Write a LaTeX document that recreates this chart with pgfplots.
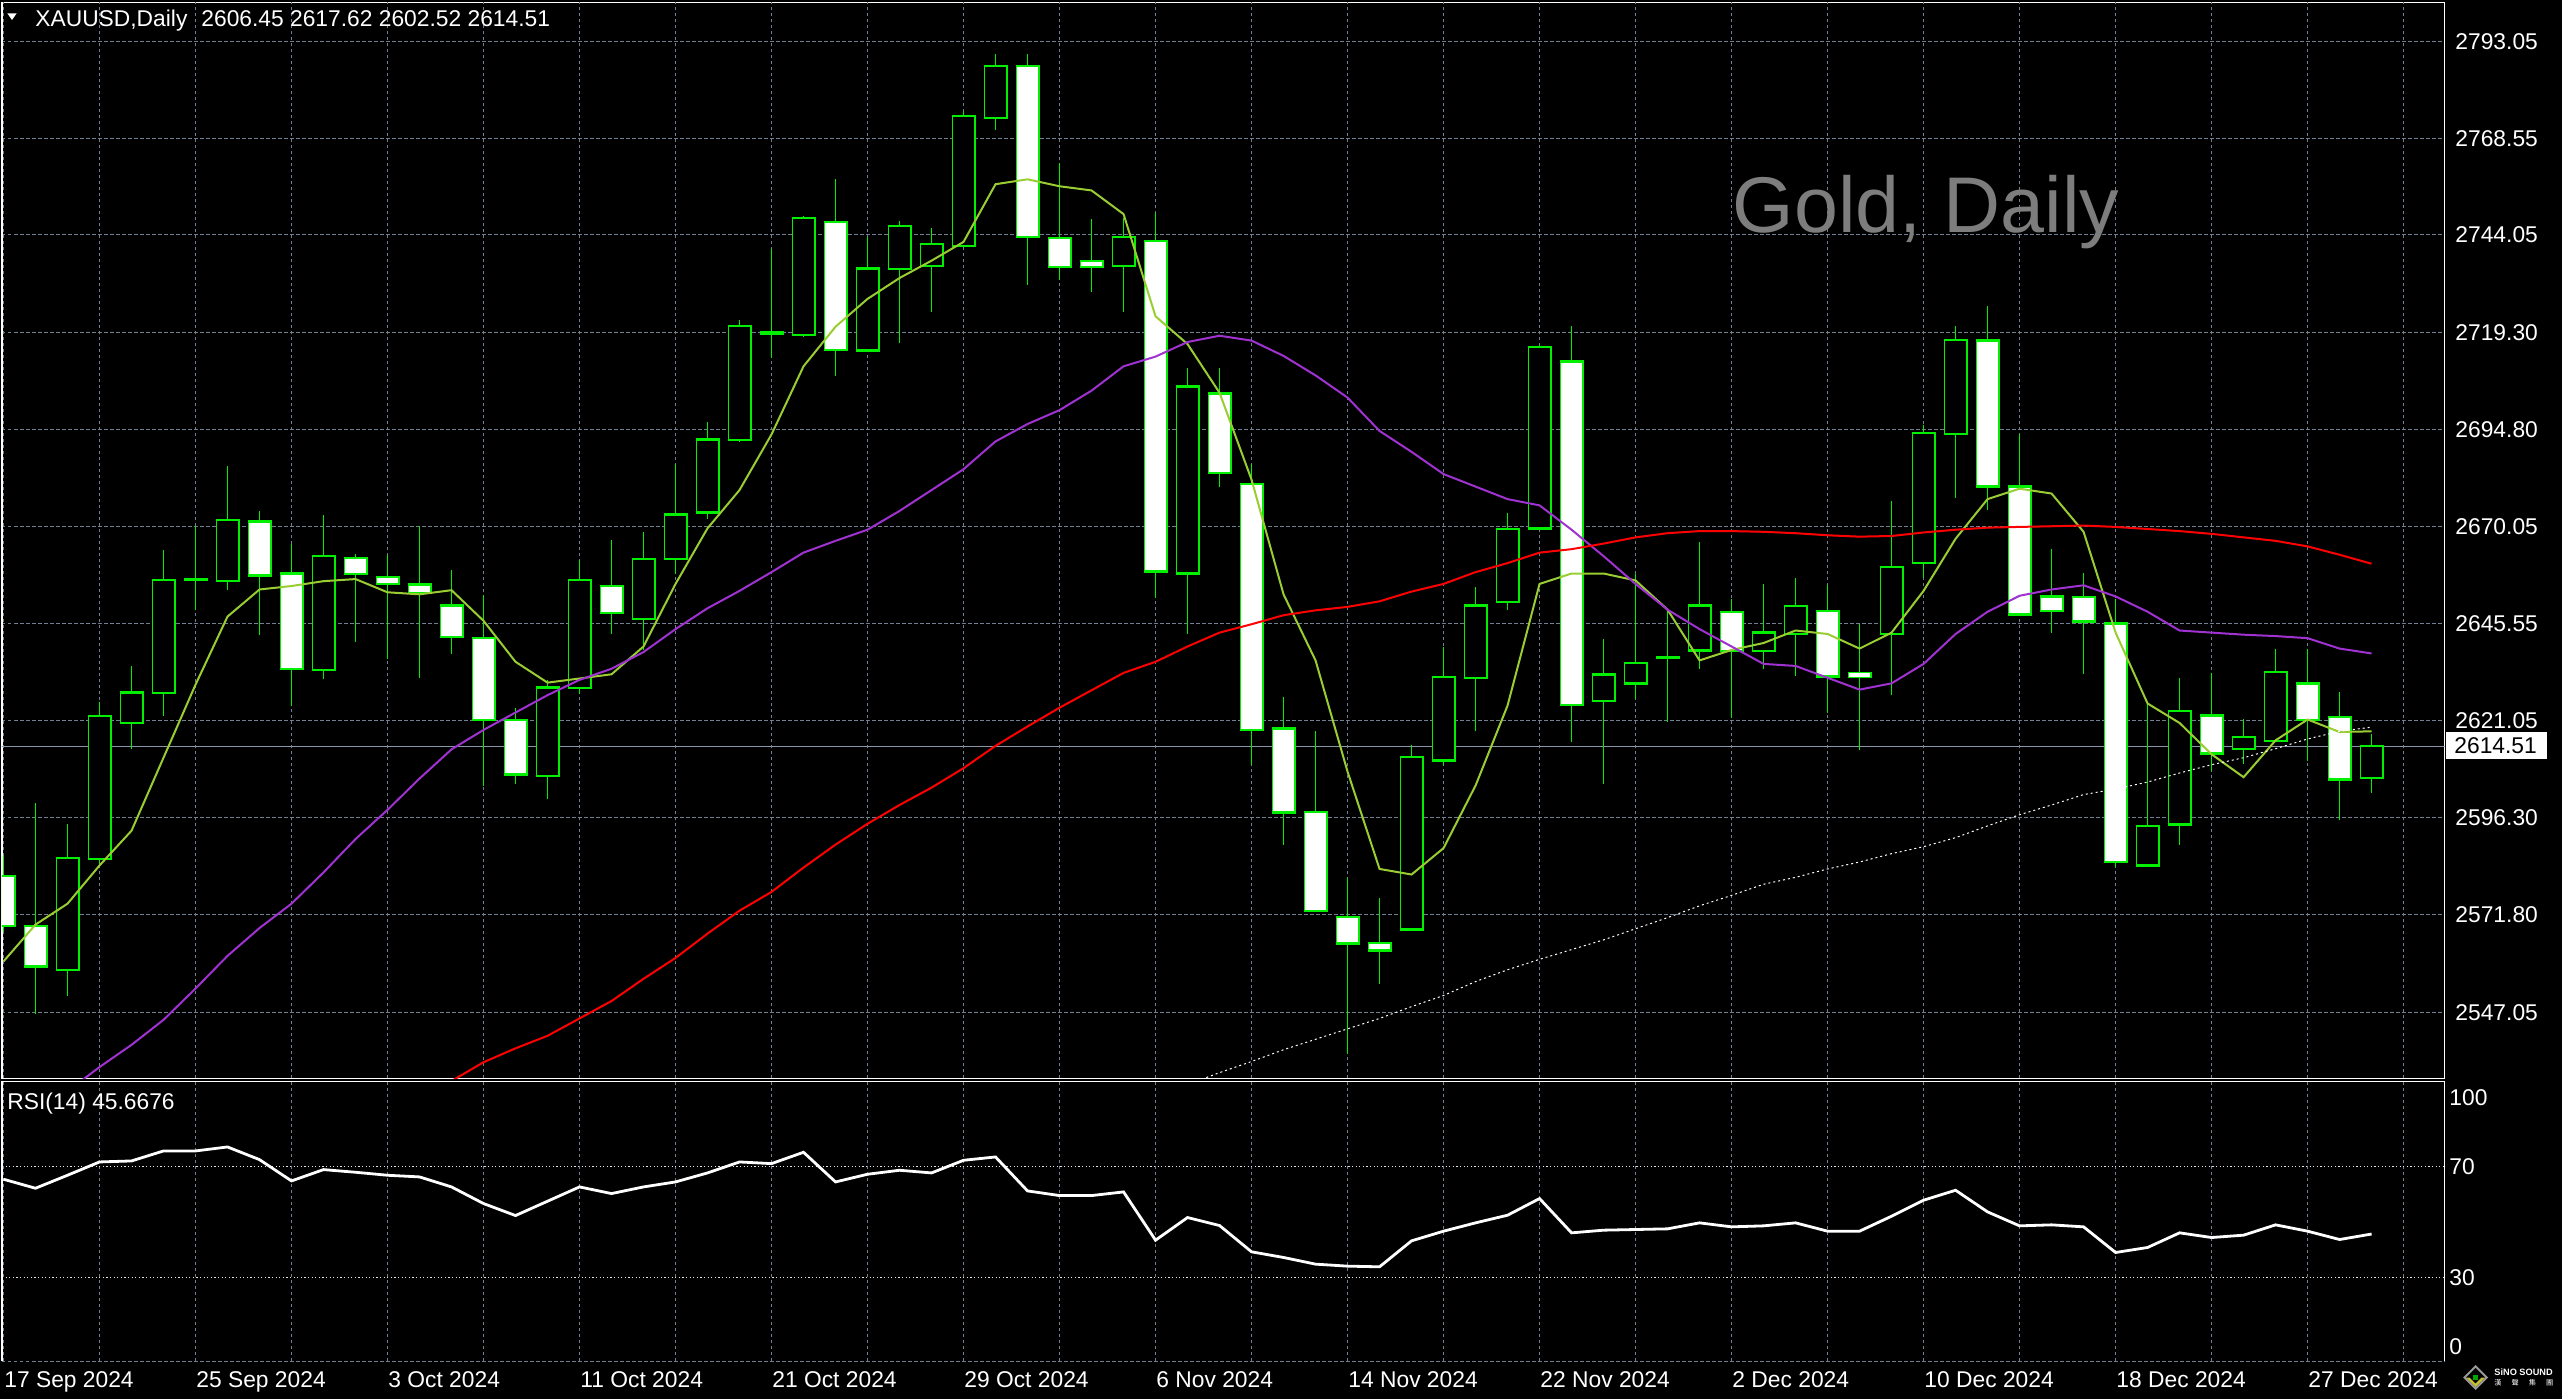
\documentclass[border=0pt]{standalone}
\usepackage{pgfplots}
\pgfplotsset{compat=1.18}
\usepackage{pgfplotstable}
\usepackage{fontspec}
\setmainfont{Liberation Sans}
\newfontfamily\cjk{Noto Sans CJK TC}
\definecolor{candle}{RGB}{0,240,0}
\definecolor{maf}{RGB}{154,205,50}
\definecolor{mam}{RGB}{160,50,210}
\definecolor{gridc}{RGB}{112,128,144}
\definecolor{pricel}{RGB}{140,150,170}
\definecolor{goldtxt}{RGB}{125,125,125}
\newcommand{\lblfont}{\fontsize{11.4}{13}\selectfont}
\pgfplotsset{candlelayer/.style={only marks, mark=*, mark size=0pt, mark options={draw=none, fill=none}, forget plot,
  error bars/.cd, y dir=both, y explicit, error mark=none}}
\tikzset{gridline/.style={gridc, line width=0.5pt, dash pattern=on 1.75pt off 1.25pt}}

\pgfplotstableread{
i O H L C
0 2581.59 2586.87 2567.50 2568.90
1 2568.90 2600.09 2546.69 2558.68
2 2557.80 2594.63 2551.10 2586.17
3 2585.82 2625.64 2584.23 2622.12
4 2620.35 2634.81 2613.66 2628.11
5 2627.93 2664.23 2622.12 2656.66
6 2656.80 2670.22 2648.90 2656.60
7 2656.30 2685.56 2654.19 2671.81
8 2671.46 2674.10 2642.73 2657.71
9 2658.24 2665.64 2624.76 2634.10
10 2633.75 2673.04 2631.63 2662.65
11 2662.12 2663.18 2640.97 2658.07
12 2657.36 2663.00 2636.57 2655.60
13 2655.42 2670.22 2631.81 2653.31
14 2650.14 2659.12 2637.80 2642.21
15 2641.85 2652.78 2604.49 2621.06
16 2621.06 2624.23 2604.85 2607.31
17 2606.96 2631.28 2600.97 2629.34
18 2629.17 2661.59 2627.75 2656.66
19 2655.07 2666.70 2642.91 2648.20
20 2646.79 2668.81 2638.86 2661.94
21 2661.94 2685.91 2658.07 2673.22
22 2673.75 2696.66 2672.16 2692.25
23 2692.08 2722.56 2691.55 2720.98
24 2719.30 2740.54 2712.87 2719.10
25 2718.68 2748.82 2718.15 2748.29
26 2747.41 2758.33 2708.29 2714.98
27 2714.81 2743.53 2714.50 2735.60
28 2735.43 2747.59 2716.57 2746.35
29 2736.13 2745.82 2724.50 2741.77
30 2741.24 2775.43 2740.90 2774.19
31 2773.67 2789.88 2770.67 2786.88
32 2786.88 2789.88 2731.37 2743.53
33 2743.36 2762.39 2732.61 2735.95
34 2737.36 2748.11 2729.61 2735.95
35 2736.13 2748.47 2724.50 2743.53
36 2742.47 2749.52 2652.07 2658.77
37 2658.24 2710.40 2642.91 2705.64
38 2703.88 2710.40 2680.27 2683.79
39 2680.97 2685.91 2609.60 2618.59
40 2618.94 2626.87 2589.34 2597.62
41 2597.80 2618.24 2572.40 2572.77
42 2571.19 2581.06 2536.47 2564.49
43 2564.67 2575.95 2554.10 2562.73
44 2568.02 2614.72 2567.80 2611.72
45 2610.84 2639.56 2609.60 2631.98
46 2631.81 2654.89 2618.42 2650.14
47 2651.02 2673.57 2649.08 2669.52
48 2669.70 2716.22 2669.40 2715.69
49 2711.99 2720.98 2615.42 2624.94
50 2625.99 2641.68 2604.85 2632.69
51 2630.40 2658.07 2626.35 2635.51
52 2637.00 2649.43 2620.71 2636.85
53 2638.68 2666.17 2633.92 2650.14
54 2648.55 2651.72 2621.59 2638.68
55 2638.68 2655.60 2633.92 2643.26
56 2642.91 2657.01 2632.34 2649.96
57 2648.73 2655.42 2623.00 2632.16
58 2632.87 2645.55 2613.48 2631.98
59 2642.91 2676.74 2627.40 2659.83
60 2660.88 2695.78 2657.01 2693.84
61 2693.66 2720.98 2677.45 2717.45
62 2717.28 2726.09 2674.45 2680.27
63 2680.27 2693.66 2647.50 2647.84
64 2652.43 2664.41 2643.09 2648.73
65 2652.25 2658.42 2632.69 2646.08
66 2645.55 2651.72 2583.88 2585.11
67 2584.23 2625.29 2583.88 2594.27
68 2594.63 2631.81 2589.34 2623.35
69 2622.29 2633.04 2608.19 2612.60
70 2613.83 2621.41 2609.96 2616.83
71 2615.77 2639.21 2615.60 2633.22
72 2630.40 2639.21 2610.84 2621.06
73 2621.94 2628.11 2595.86 2606.08
74 2606.45 2617.62 2602.52 2614.51
}\ohlc

\pgfplotstableread{
i m5 m20 m50 m100
0 2559.91 nan nan nan
1 2569.25 nan nan nan
2 2574.54 2527.00 nan nan
3 2584.23 2533.13 nan nan
4 2593.04 2538.76 nan nan
5 2611.54 2545.10 nan nan
6 2630.05 2553.04 nan nan
7 2647.32 2561.32 nan nan
8 2654.19 2568.37 nan nan
9 2655.07 2574.54 nan nan
10 2656.30 2582.47 nan nan
11 2656.83 2590.92 nan nan
12 2653.48 2598.33 nan nan
13 2652.96 2606.26 2525.20 nan
14 2654.01 2613.66 2529.60 nan
15 2646.26 2618.59 2534.36 nan
16 2635.86 2623.00 2537.88 nan
17 2630.58 2627.40 2541.05 nan
18 2631.63 2631.28 2545.46 nan
19 2632.69 2634.10 2549.87 nan
20 2639.74 2638.33 2555.50 nan
21 2655.60 2644.14 2560.79 nan
22 2669.70 2649.43 2566.96 nan
23 2679.39 2653.84 2572.77 nan
24 2693.49 2658.59 2577.53 nan
25 2710.76 2663.53 2583.70 nan
26 2720.80 2666.52 2589.52 nan
27 2727.85 2669.34 2594.80 nan
28 2733.14 2674.10 2599.56 nan
29 2737.54 2679.39 2603.96 nan
30 2742.30 2684.67 2608.90 nan
31 2756.92 2691.72 2614.54 nan
32 2758.16 2696.13 2619.47 nan
33 2756.40 2699.65 2624.23 nan
34 2755.34 2704.59 2628.64 nan
35 2749.35 2710.76 2633.04 nan
36 2723.44 2713.22 2635.86 nan
37 2716.39 2716.92 2639.74 2528.70
38 2704.06 2718.51 2643.26 2531.72
39 2682.03 2717.28 2645.38 2534.54
40 2652.96 2713.40 2647.67 2537.53
41 2636.21 2708.46 2648.90 2540.17
42 2608.02 2702.83 2649.78 2542.82
43 2583.35 2694.37 2651.19 2545.46
44 2581.94 2689.08 2653.66 2548.46
45 2588.63 2683.44 2655.60 2551.28
46 2604.49 2680.27 2658.59 2554.80
47 2624.76 2677.10 2660.88 2557.80
48 2655.60 2675.51 2663.53 2560.44
49 2658.24 2669.34 2664.41 2562.91
50 2658.24 2662.65 2665.82 2565.37
51 2656.48 2655.60 2667.40 2568.19
52 2649.08 2649.08 2668.46 2571.01
53 2636.21 2644.14 2668.99 2574.01
54 2638.86 2639.74 2668.99 2576.65
55 2640.62 2635.33 2668.81 2579.47
56 2643.79 2634.81 2668.46 2581.23
57 2642.91 2631.81 2667.93 2583.35
58 2639.21 2628.81 2667.58 2585.11
59 2643.26 2630.40 2667.75 2587.23
60 2653.84 2635.33 2668.64 2588.99
61 2667.05 2642.91 2669.34 2591.28
62 2677.10 2648.55 2669.87 2594.27
63 2679.74 2652.60 2670.05 2597.09
64 2678.51 2654.19 2670.22 2599.56
65 2668.81 2655.25 2670.40 2602.20
66 2643.26 2652.43 2670.05 2603.61
67 2625.29 2648.55 2669.52 2605.38
68 2620.35 2643.79 2668.99 2607.67
69 2612.42 2643.26 2668.29 2609.78
70 2606.61 2642.73 2667.40 2611.54
71 2615.95 2642.38 2666.52 2613.83
72 2621.24 2641.85 2665.11 2616.30
73 2618.06 2639.21 2663.00 2618.24
74 2618.24 2637.98 2660.71 2619.30
}\ma

\pgfplotstableread{
i r
0 65.44
1 62.19
2 66.88
3 71.68
4 72.04
5 75.65
6 75.65
7 77.09
8 72.52
9 64.83
10 68.92
11 67.96
12 66.88
13 66.28
14 62.67
15 56.67
16 52.34
17 57.51
18 62.67
19 60.27
20 62.67
21 64.47
22 67.72
23 71.68
24 71.08
25 75.17
26 64.47
27 67.24
28 68.68
29 67.72
30 72.28
31 73.48
32 61.23
33 59.55
34 59.55
35 60.87
36 43.45
37 51.62
38 48.74
39 39.25
40 37.21
41 34.80
42 34.08
43 33.84
44 43.21
45 46.70
46 49.70
47 52.46
48 58.47
49 46.10
50 47.06
51 47.30
52 47.54
53 49.70
54 48.26
55 48.62
56 49.70
57 46.70
58 46.70
59 52.10
60 57.87
61 61.47
62 53.66
63 48.62
64 48.98
65 48.26
66 39.01
67 40.81
68 46.10
69 44.41
70 45.26
71 48.98
72 46.70
73 43.69
74 45.67
}\rsi

\begin{document}
\begin{tikzpicture}
\fill[black] (0pt,0pt) rectangle (1281pt,699.5pt);

% ---------------- main price panel ----------------
\begin{axis}[
  at={(1pt,160.25pt)}, anchor=south west,
  width=1221.25pt, height=538pt, scale only axis,
  xmin=-0.0469, xmax=76.28, ymin=2530.24, ymax=2802.99,
  axis line style={white, line width=0.6pt},
  xtick=\empty,
  ytick={2547.05,2571.80,2596.30,2621.05,2645.55,2670.05,2694.80,2719.30,2744.05,2768.55,2793.05},
  yticklabels={2547.05,2571.80,2596.30,2621.05,2645.55,2670.05,2694.80,2719.30,2744.05,2768.55,2793.05},
  yticklabel pos=right,
  yticklabel style={anchor=west, inner sep=0pt, xshift=5.25pt, font=\lblfont, text=white},
  major tick length=0pt,
  ymajorgrids=true,
  major grid style={gridline},
  unbounded coords=jump,
]
% vertical grid lines every three bars
\pgfplotsinvokeforeach{0,3,...,75}{\draw[gridline] (axis cs:#1,2530.24) -- (axis cs:#1,2802.99);}
\addplot[pricel, line width=0.5pt, forget plot] coordinates {(-1,2614.51) (77,2614.51)};
% wicks
\addplot[candlelayer, error bar style={draw=candle, line width=0.65pt}]
  table[x=i, y expr={(\thisrow{H}+\thisrow{L})/2}, y error expr={(\thisrow{H}-\thisrow{L})/2}] {\ohlc};
% body outline
\addplot[candlelayer, error bar style={draw=candle, line width=12pt}]
  table[x=i, y expr={(\thisrow{O}+\thisrow{C})/2}, y error expr={abs(\thisrow{C}-\thisrow{O})/2+0.3}] {\ohlc};
% bearish fill (white); rows that are not bearish are sent far below the clipped axis
\addplot[candlelayer, error bar style={draw=white, line width=10.8pt}]
  table[x=i, y expr={\thisrow{O}-\thisrow{C}>0.6 ? (\thisrow{O}+\thisrow{C})/2 : 2000},
        y error expr={max(abs(\thisrow{C}-\thisrow{O})/2-0.3,0.5)}] {\ohlc};
% bullish fill (black)
\addplot[candlelayer, error bar style={draw=black, line width=10.8pt}]
  table[x=i, y expr={\thisrow{C}-\thisrow{O}>0.6 ? (\thisrow{O}+\thisrow{C})/2 : 2000},
        y error expr={max(abs(\thisrow{C}-\thisrow{O})/2-0.3,0.5)}] {\ohlc};
% moving averages
\addplot[maf, line width=1pt] table[x=i, y=m5] {\ma};
\addplot[mam, line width=1pt] table[x=i, y=m20] {\ma};
\addplot[red, line width=1pt] table[x=i, y=m50] {\ma};
\addplot[white, line width=0.5pt, dash pattern=on 1pt off 1.5pt] table[x=i, y=m100] {\ma};
\end{axis}

% ---------------- RSI panel ----------------
\begin{axis}[
  at={(1pt,19pt)}, anchor=south west,
  width=1221.25pt, height=139.6pt, scale only axis,
  xmin=-0.0469, xmax=76.28, ymin=-0.15, ymax=100.6,
  axis line style={draw=none},
  clip=false,
  xtick={0,3,...,75},
  xticklabels={17 Sep 2024,,25 Sep 2024,,3 Oct 2024,,11 Oct 2024,,21 Oct 2024,,29 Oct 2024,,6 Nov 2024,,14 Nov 2024,,22 Nov 2024,,2 Dec 2024,,10 Dec 2024,,18 Dec 2024,,27 Dec 2024,},
  xticklabel style={anchor=north west, inner sep=0pt, xshift=0.25pt, yshift=-5pt, font=\lblfont, text=white},
  xmajorgrids=true,
  major grid style={gridline},
  ytick={5,94.8}, yticklabels={0,100},
  yticklabel pos=right,
  yticklabel style={anchor=west, inner sep=0pt, xshift=2.25pt, font=\lblfont, text=white},
  extra y ticks={30,70}, extra y tick labels={30,70},
  extra y tick style={ymajorgrids=true, major grid style={white!80!gray, line width=0.5pt, dash pattern=on 0.6pt off 1.2pt}},
  major tick length=0pt,
]
\draw[gridline] (rel axis cs:0,0) -- (rel axis cs:1,0);
\draw[white, line width=0.6pt] (rel axis cs:0,0) -- (rel axis cs:0,1) -- (rel axis cs:1,1) -- (rel axis cs:1,0);
\addplot[white, line width=1.4pt] table[x=i, y=r] {\rsi};
\end{axis}

% ---------------- texts ----------------
\fill[white] (3.65pt,692.85pt) -- (8.35pt,692.85pt) -- (6pt,689.5pt) -- cycle;
\node[anchor=base west, inner sep=0pt, text=white, font=\lblfont] at (17.5pt,686.15pt)
  {XAUUSD,Daily\hspace{7pt}2606.45 2617.62 2602.52 2614.51};
\node[anchor=base west, inner sep=0pt, text=goldtxt, font=\fontsize{39.5}{44}\selectfont] at (866.25pt,583pt) {Gold, Daily};
\node[anchor=base west, inner sep=0pt, text=white, font=\lblfont] at (3.5pt,145pt) {RSI(14) 45.6676};
\fill[white] (1223pt,319.85pt) rectangle (1273.35pt,333.5pt);
\node[anchor=west, inner sep=0pt, text=black, font=\lblfont] at (1227pt,326.7pt) {2614.51};

% logo
\fill[gray!80] (1237.75pt,17pt) -- (1244pt,10.75pt) -- (1237.75pt,4.5pt) -- (1231.5pt,10.75pt) -- cycle;
\fill[black] (1237.75pt,15.5pt) -- (1242.5pt,10.75pt) -- (1237.75pt,6pt) -- (1233pt,10.75pt) -- cycle;
\fill[yellow!75!black] (1237.75pt,6pt) -- (1242.5pt,10.75pt) -- (1240.8pt,10.75pt) -- (1237.75pt,7.7pt) -- (1234.7pt,10.75pt) -- (1233pt,10.75pt) -- cycle;
\fill[green!65!black] (1236.5pt,9.5pt) rectangle (1239pt,12pt);
\node[anchor=base west, inner sep=0pt, text=white, font=\fontsize{4.6}{5}\selectfont\bfseries] at (1247pt,11.6pt) {SiNO SOUND};
\node[anchor=base west, inner sep=0pt, text=white, font=\cjk\fontsize{3.6}{4}\selectfont] at (1247pt,6.6pt) {漢\hspace{5pt}聲\hspace{5pt}集\hspace{5pt}團};

\pgfresetboundingbox
\path[use as bounding box] (0pt,0pt) rectangle (1281pt,699.5pt);
\end{tikzpicture}
\end{document}
